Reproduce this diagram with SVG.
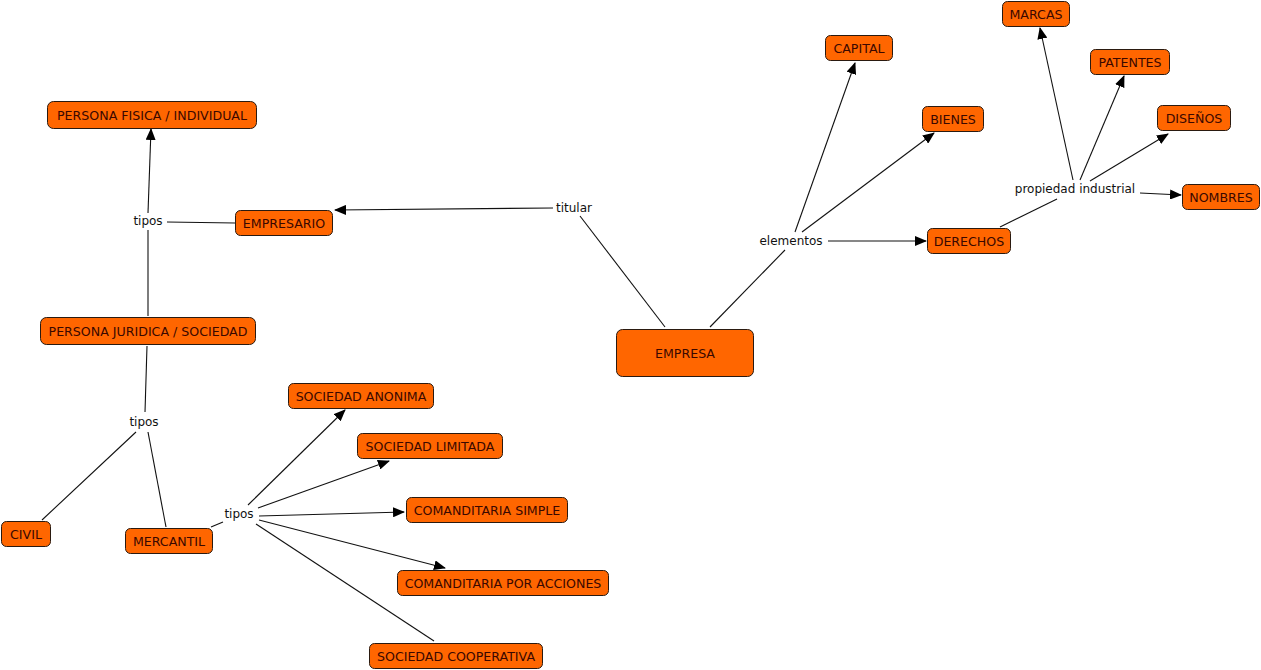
<svg xmlns="http://www.w3.org/2000/svg" width="1261" height="670" viewBox="0 0 1261 670">
<defs>
<marker id="ah" markerUnits="userSpaceOnUse" markerWidth="12" markerHeight="10" refX="11" refY="5" orient="auto">
<path d="M0,0 L12,5 L0,10 Z" fill="#000"/>
</marker>
<style>
.n rect{fill:#FF6600;stroke:#2a1a10;stroke-width:1}
.n text{font-family:"DejaVu Sans",Verdana,sans-serif;font-size:12.6px;fill:#3a0800;text-anchor:middle;dominant-baseline:central}
.lp{font-family:"DejaVu Sans",Verdana,sans-serif;font-size:12px;fill:#111;text-anchor:middle;dominant-baseline:central}
.c line{stroke:#111;stroke-width:1.1;fill:none}
.c .a{marker-end:url(#ah)}
</style>
</defs>
<rect width="1261" height="670" fill="#fff"/>
<g class="c" id="connectors">
<line x1="665" y1="327" x2="580" y2="216"/>
<line class="a" x1="553" y1="208" x2="335" y2="210"/>
<line x1="710" y1="327" x2="785" y2="250"/>
<line class="a" x1="795" y1="232" x2="855" y2="63"/>
<line class="a" x1="802" y1="232" x2="934" y2="133"/>
<line class="a" x1="828" y1="241" x2="926" y2="241"/>
<line x1="1000" y1="227" x2="1057" y2="199"/>
<line class="a" x1="1073" y1="180" x2="1040" y2="28"/>
<line class="a" x1="1080" y1="180" x2="1124" y2="76"/>
<line class="a" x1="1090" y1="181" x2="1168" y2="134"/>
<line class="a" x1="1140" y1="193" x2="1181" y2="195"/>
<line x1="235" y1="223" x2="167" y2="222"/>
<line class="a" x1="148" y1="213" x2="151" y2="129"/>
<line x1="148" y1="230" x2="148" y2="316"/>
<line x1="147" y1="346" x2="145" y2="412"/>
<line x1="136" y1="432" x2="42" y2="520"/>
<line x1="148" y1="432" x2="166" y2="527"/>
<line x1="211" y1="527" x2="223" y2="522"/>
<line class="a" x1="248" y1="505" x2="345" y2="410"/>
<line class="a" x1="258" y1="508" x2="389" y2="461"/>
<line class="a" x1="259" y1="516" x2="404" y2="512"/>
<line class="a" x1="259" y1="520" x2="445" y2="568"/>
<line x1="256" y1="524" x2="434" y2="641"/>
</g>
<text class="lp" x="574" y="208">titular</text>
<text class="lp" x="791" y="241">elementos</text>
<text class="lp" x="1075" y="189">propiedad industrial</text>
<text class="lp" x="148" y="221">tipos</text>
<text class="lp" x="144" y="422">tipos</text>
<text class="lp" x="239" y="514">tipos</text>
<g class="n" id="empresa"><rect x="616.5" y="329.5" width="137" height="47" rx="6"/><text x="685" y="353">EMPRESA</text></g>
<g class="n" id="marcas"><rect x="1002.5" y="1.5" width="67" height="25" rx="5"/><text x="1036" y="14">MARCAS</text></g>
<g class="n" id="capital"><rect x="825.5" y="35.5" width="67" height="25" rx="5"/><text x="859" y="48">CAPITAL</text></g>
<g class="n" id="patentes"><rect x="1090.5" y="49.5" width="79" height="25" rx="5"/><text x="1130" y="62">PATENTES</text></g>
<g class="n" id="disenos"><rect x="1157.5" y="105.5" width="73" height="25" rx="5"/><text x="1194" y="118">DISEÑOS</text></g>
<g class="n" id="bienes"><rect x="922.5" y="106.5" width="61" height="25" rx="5"/><text x="953" y="119">BIENES</text></g>
<g class="n" id="nombres"><rect x="1182.5" y="184.5" width="77" height="25" rx="5"/><text x="1221" y="197">NOMBRES</text></g>
<g class="n" id="derechos"><rect x="927.5" y="228.5" width="83" height="25" rx="5"/><text x="969" y="241">DERECHOS</text></g>
<g class="n" id="persona-fisica"><rect x="47.5" y="101.5" width="209" height="27" rx="6"/><text x="152" y="115">PERSONA FISICA / INDIVIDUAL</text></g>
<g class="n" id="empresario"><rect x="235.5" y="210.5" width="97" height="25" rx="5"/><text x="284" y="223">EMPRESARIO</text></g>
<g class="n" id="persona-juridica"><rect x="40.5" y="317.5" width="215" height="27" rx="6"/><text x="148" y="331">PERSONA JURIDICA / SOCIEDAD</text></g>
<g class="n" id="sociedad-anonima"><rect x="288.5" y="383.5" width="145" height="25" rx="5"/><text x="361" y="396">SOCIEDAD ANONIMA</text></g>
<g class="n" id="sociedad-limitada"><rect x="357.5" y="433.5" width="145" height="25" rx="5"/><text x="430" y="446">SOCIEDAD LIMITADA</text></g>
<g class="n" id="comanditaria-simple"><rect x="406.5" y="497.5" width="161" height="25" rx="5"/><text x="487" y="510">COMANDITARIA SIMPLE</text></g>
<g class="n" id="civil"><rect x="1.5" y="521.5" width="49" height="25" rx="5"/><text x="26" y="534">CIVIL</text></g>
<g class="n" id="mercantil"><rect x="125.5" y="528.5" width="87" height="25" rx="5"/><text x="169" y="541">MERCANTIL</text></g>
<g class="n" id="comanditaria-acciones"><rect x="397.5" y="570.5" width="211" height="25" rx="5"/><text x="503" y="583">COMANDITARIA POR ACCIONES</text></g>
<g class="n" id="sociedad-cooperativa"><rect x="369.5" y="643.5" width="173" height="25" rx="5"/><text x="456" y="656">SOCIEDAD COOPERATIVA</text></g>
</svg>
